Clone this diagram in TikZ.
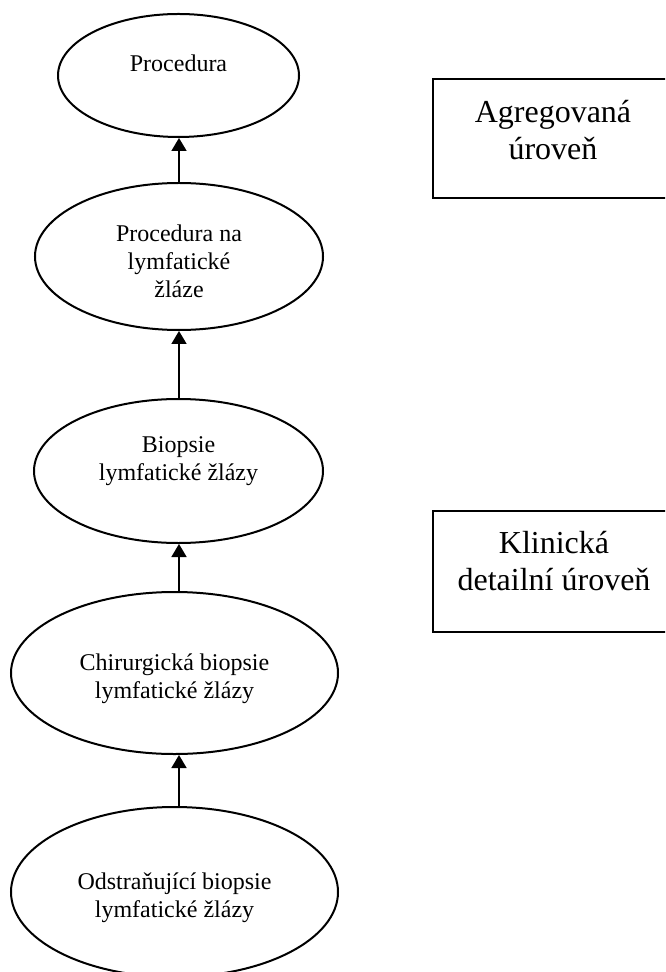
\documentclass[tikz,border=0pt]{standalone}
\usepackage{fontspec}
\setmainfont{Liberation Serif}
\usetikzlibrary{shapes.geometric,arrows.meta}
\tikzset{
  uzel/.style={ellipse,draw,line width=1pt,inner sep=0pt},
  popis/.style={font=\fontsize{12}{14}\selectfont,align=center,inner sep=0pt},
  uroven/.style={draw,line width=1pt,inner sep=0pt},
  nadpis/.style={font=\fontsize{16}{18.5}\selectfont,align=center,inner sep=0pt},
  sip/.style={-{Triangle[length=6.5pt,width=7.5pt]},line width=0.9pt},
}

\begin{document}
\begin{tikzpicture}[x=0.5pt,y=-0.5pt]
  \clip (0,0) rectangle (665,972);
  \coordinate (osa) at (179,0);
  % hierarchie procedur
  \node[uzel,minimum width=120.5pt,minimum height=61.5pt,
        label={[popis,yshift=6.25pt]center:Procedura}] (proc) at (178.5,75.5) {};
  \node[uzel,minimum width=144pt,minimum height=73.5pt,
        label={[popis,yshift=-2.25pt]center:Procedura na\\lymfatické\\žláze}] (uzliny) at (179,256.5) {};
  \node[uzel,minimum width=144.5pt,minimum height=72pt,
        label={[popis,yshift=5pt]center:Biopsie\\lymfatické žlázy}] (biopsie) at (178.5,471) {};
  \node[uzel,minimum width=163.5pt,minimum height=81pt,
        label={[popis,yshift=-3pt]center:Chirurgická biopsie\\lymfatické žlázy}] (chir) at (174.5,673) {};
  \node[uzel,minimum width=163.5pt,minimum height=85pt,
        label={[popis,yshift=-3pt]center:Odstraňující biopsie\\lymfatické žlázy}] (odstr) at (174.5,892) {};
  % urovne
  \node[uroven,minimum width=120pt,minimum height=59.5pt,
        label={[nadpis,yshift=4.25pt]center:Agregovaná\\úroveň}] (agreg) at (553,138.5) {};
  \node[uroven,minimum width=121pt,minimum height=60.5pt,
        label={[nadpis,yshift=5.25pt]center:Klinická\\detailní úroveň}] (klin) at (554,571.5) {};
  % sipky
  \draw[sip] (uzliny.north) -- (uzliny.north |- proc.south);
  \draw[sip] (biopsie.north -| osa) -- (uzliny.south -| osa);
  \draw[sip] (chir.north -| osa) -- (biopsie.south -| osa);
  \draw[sip] (odstr.north -| osa) -- (chir.south -| osa);
\end{tikzpicture}
\end{document}
